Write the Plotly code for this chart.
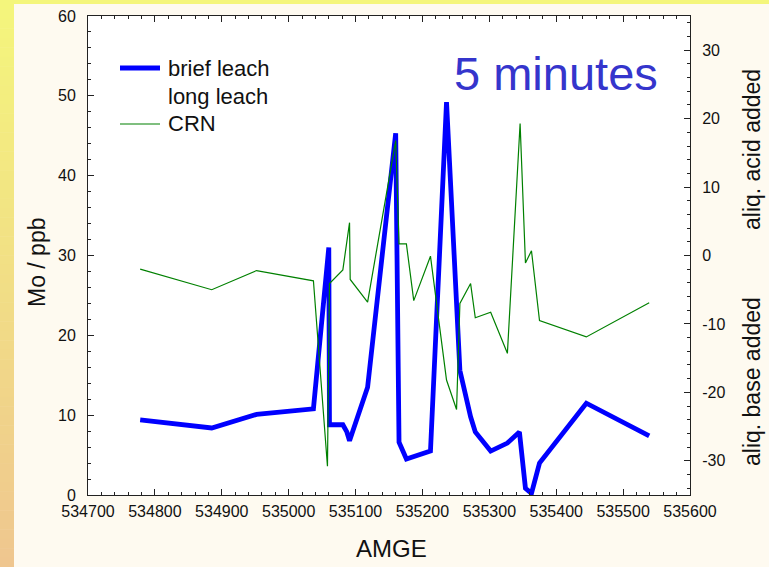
import plotly.graph_objects as go

# Mo concentration (left axis) for the brief leach
brief_x = [534778, 534885, 534952, 535037, 535060, 535061, 535081, 535087, 535091,
           535118, 535160, 535165, 535176, 535212, 535236, 535256, 535272, 535279,
           535302, 535327, 535345, 535354, 535363, 535375, 535445, 535539]
brief_mo = [9.4, 8.4, 10.1, 10.8, 31.0, 8.8, 8.8, 7.9, 6.8,
            13.5, 45.3, 6.6, 4.5, 5.5, 49.2, 15.6, 9.8, 7.9,
            5.5, 6.5, 7.9, 0.85, 0.2, 4.0, 11.5, 7.4]

# CRN (right axis: aliquots of acid / base added)
crn_x = [534778, 534885, 534952, 535037, 535058, 535061, 535081, 535091, 535092,
         535118, 535160, 535165, 535176, 535187, 535212, 535236, 535251, 535256,
         535272, 535279, 535302, 535327, 535346, 535354, 535363, 535375, 535445, 535539]
crn_val = [-2.0, -5.0, -2.2, -3.7, -30.8, -4.1, -2.1, 4.8, -3.5,
           -6.8, 16.8, 1.7, 1.7, -6.6, -0.1, -18.2, -22.5, -7.0,
           -4.1, -9.1, -8.3, -14.3, 19.3, -1.1, 0.7, -9.5, -11.9, -6.9]

# long leach has no samples in this run (kept as a legend entry only)
long_x = [None]
long_mo = [None]

legend_names = ["brief leach", "long leach", "CRN"]

# right-axis tick labels, written with a plain hyphen
right_ticks = [-30, -20, -10, 0, 10, 20, 30]
right_tick_labels = ["-30", "-20", "-10", "0", "10", "20", "30"]

W, H = 769, 567
ML, MR, MT, MB = 88, 79, 16, 72
PW, PH = W - ML - MR, H - MT - MB

FONT = "Liberation Sans, Arial, sans-serif"
INK = "#111111"


def px_x(p):
    return (p - ML) / PW


def px_y(p):
    return (H - MB - p) / PH


fig = go.Figure()
fig.add_trace(go.Scatter(x=brief_x, y=brief_mo, mode="lines", name=legend_names[0],
                         line=dict(color="#0000FF", width=4.8)))
fig.add_trace(go.Scatter(x=long_x, y=long_mo, mode="lines", name=legend_names[1],
                         line=dict(color="rgba(0,0,0,0)", width=1)))
fig.add_trace(go.Scatter(x=crn_x, y=crn_val, mode="lines", name=legend_names[2],
                         yaxis="y2", line=dict(color="#008000", width=1.2)))

# page background: cream panel with a yellow band on top and a yellow-to-orange strip on the left
shapes = [dict(type="rect", xref="paper", yref="paper", layer="below",
               x0=px_x(0), x1=px_x(W), y0=px_y(4), y1=px_y(0),
               fillcolor="#F4F67C", line=dict(width=0))]
c_top = (0xF4, 0xF6, 0x7C)
c_bot = (0xEF, 0xC6, 0x8F)
n = 60
for i in range(n):
    t = (i + 0.5) / n
    col = tuple(round(a + (b - a) * t) for a, b in zip(c_top, c_bot))
    y0 = H * i / n
    y1 = H * (i + 1) / n + 0.5
    shapes.append(dict(type="rect", xref="paper", yref="paper", layer="below",
                       x0=px_x(0), x1=px_x(14), y0=px_y(y1), y1=px_y(y0),
                       fillcolor="rgb(%d,%d,%d)" % col, line=dict(width=0)))

# hand-placed legend: line samples plus labels
legend_rows = [68, 97, 124]
legend_lines = [("#0000FF", 4.8), None, ("#008000", 1.2)]
annotations = []
for name, row, style in zip(legend_names, legend_rows, legend_lines):
    if style is not None:
        shapes.append(dict(type="line", xref="paper", yref="paper",
                           x0=px_x(120), x1=px_x(160), y0=px_y(row), y1=px_y(row),
                           line=dict(color=style[0], width=style[1])))
    annotations.append(dict(text=name, xref="paper", yref="paper", x=px_x(166), y=px_y(row),
                            xanchor="left", yanchor="middle", showarrow=False,
                            font=dict(family=FONT, size=22, color=INK)))


def label(text, x, y, size, angle=0, color=INK):
    return dict(text=text, xref="paper", yref="paper", x=px_x(x), y=px_y(y),
                xanchor="center", yanchor="middle", textangle=angle, showarrow=False,
                font=dict(family=FONT, size=size, color=color))


annotations += [
    label("5 minutes", 556, 73, 47, color="#3535CC"),
    label("AMGE", 391, 548, 24),
    label("Mo / ppb", 37, 262, 23, -90),
    label("aliq. acid added", 752, 149, 23, -90),
    label("aliq. base added", 752, 381, 23, -90),
]

tick_font = dict(family=FONT, size=16, color=INK)
axis_common = dict(showgrid=False, zeroline=False, showline=True, linecolor="#222222",
                   linewidth=1, ticks="inside", ticklen=6, tickcolor="#222222",
                   tickfont=tick_font, automargin=False)

fig.update_layout(
    width=W, height=H,
    margin=dict(l=ML, r=MR, t=MT, b=MB, pad=0),
    paper_bgcolor="#FEFAF0",
    plot_bgcolor="#FFFFFF",
    shapes=shapes,
    annotations=annotations,
    showlegend=False,
    xaxis=dict(axis_common, range=[534700, 535600], dtick=100, tick0=534700,
               tickformat="d", mirror="ticks",
               minor=dict(dtick=20, ticks="inside", ticklen=3, tickcolor="#222222"),
               ticklabelstandoff=2),
    yaxis=dict(axis_common, range=[0, 60], dtick=10,
               minor=dict(dtick=2, ticks="inside", ticklen=3, tickcolor="#222222"),
               ticklabelstandoff=8),
    yaxis2=dict(axis_common, overlaying="y", side="right", range=[-35, 35],
                tickmode="array", tickvals=right_ticks, ticktext=right_tick_labels,
                minor=dict(dtick=2, tick0=0, ticks="inside", ticklen=3, tickcolor="#222222"),
                ticklabelstandoff=8),
)

fig.write_html("out.html")
